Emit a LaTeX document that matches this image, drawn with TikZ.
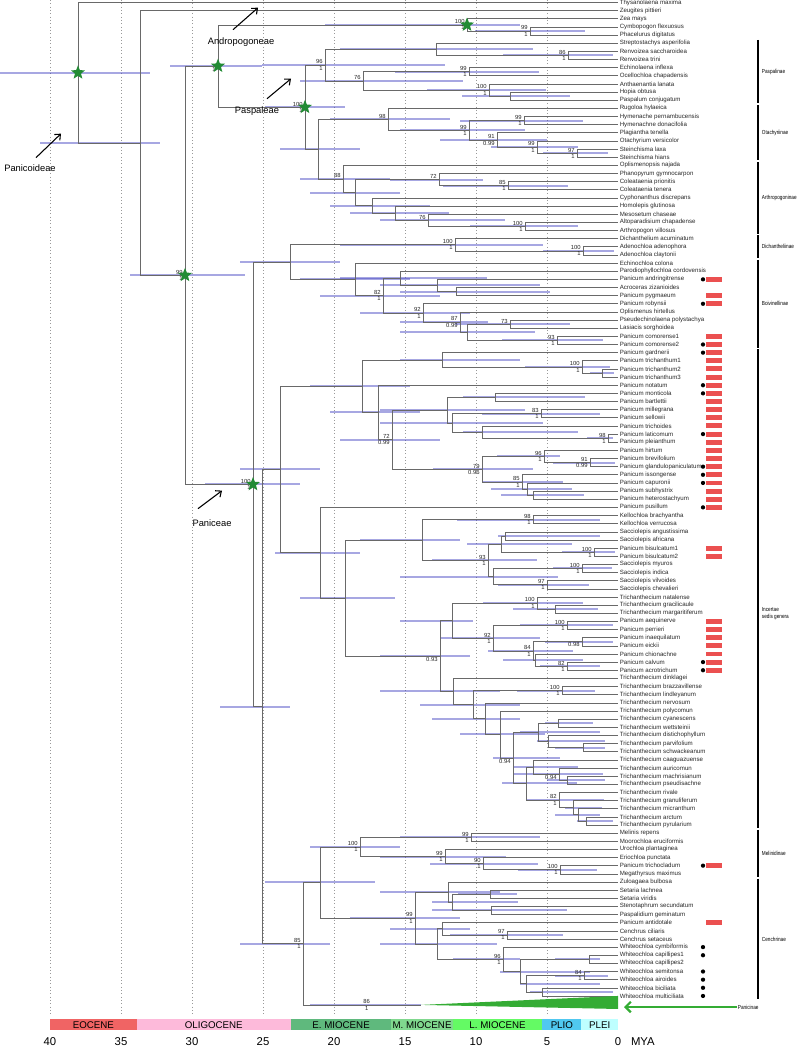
\documentclass[tikz,border=0pt]{standalone}
\usepackage{fontspec}
\setmainfont{Liberation Sans}
\usetikzlibrary{shapes.geometric, arrows.meta, positioning}
\definecolor{hpdblue}{RGB}{60,60,190}
\definecolor{branchgrey}{RGB}{105,105,105}
\definecolor{stargreen}{RGB}{34,139,52}
\definecolor{redbar}{RGB}{235,80,80}
\definecolor{pangreen}{RGB}{52,172,52}
\definecolor{eoc}{RGB}{240,100,100}
\definecolor{oli}{RGB}{253,186,218}
\definecolor{emio}{RGB}{95,185,125}
\definecolor{mmio}{RGB}{128,216,142}
\definecolor{lmio}{RGB}{100,250,100}
\definecolor{plio}{RGB}{80,200,240}
\definecolor{plei}{RGB}{190,255,255}

% node with its age bar
\newcommand{\nd}[5]{\coordinate (#1) at (#2,#3); \draw[hpd] (#4,#3) -- (#5,#3);}
% support values (bootstrap above, posterior below)
\newcommand{\bsup}[3]{\node[supp, anchor=south east] at (#1) {#2}; \node[supp, anchor=north east] at (#1) {#3};}
% narrow clade label
\newcommand{\narrow}[1]{\scalebox{0.8}[1]{#1}}

\begin{document}
\begin{tikzpicture}[x=0.75pt, y=-0.75pt,
  branch/.style={draw=branchgrey, line width=0.45pt},
  hpd/.style={draw=hpdblue, line width=1.5pt, opacity=0.45},
  taxon/.style={font=\fontsize{4.6}{5}\selectfont, anchor=west, text=black!85, inner sep=0.4pt},
  supp/.style={font=\fontsize{4.4}{5}\selectfont, text=black!85, inner sep=0.6pt, xshift=-1pt},
  gstar/.style={star, star points=5, star point ratio=2.3, fill=stargreen, minimum size=11pt, inner sep=0pt},
  cladebar/.style={draw=black, line width=2pt},
  cladelab/.style={font=\fontsize{4.4}{5.3}\selectfont, anchor=west, align=left, inner sep=0.5pt},
  tribe/.style={font=\fontsize{7}{8}\selectfont, inner sep=0.5pt},
  callout/.style={draw=black, line width=0.8pt, -{Straight Barb[length=3.5pt, width=6pt]}},
  epoch/.style={font=\fontsize{7.3}{8}\selectfont, inner sep=0pt},
  axis/.style={font=\fontsize{8.5}{10}\selectfont, inner sep=0.5pt},
  grid/.style={draw=black!40, dotted, line width=0.5pt}]
  \useasboundingbox (0,0) rectangle (796,1049);

  % Time grid, every 5 MY.
  \foreach \t in {5,10,...,40}
    \draw[grid] ({618-14.2*\t},0) -- ({618-14.2*\t},1014);

  % Tree, one row per taxon.
  \begin{scope}[y=-6.10725pt, yshift=4.232pt]
  \foreach \i/\t in {1/Thysanolaena maxima, 2/Zeugites pittieri, 3/Zea mays, 4/Cymbopogon flexuosus,
      5/Phacelurus digitatus, 6/Streptostachys asperifolia, 7/Renvoizea saccharoidea, 8/Renvoizea trini,
      9/Echinolaena inflexa, 10/Ocellochloa chapadensis, 11/Anthaenantia lanata, 12/Hopia obtusa,
      13/Paspalum conjugatum, 14/Rugoloa hylaeica, 15/Hymenache pernambucensis, 16/Hymenachne donacifolia,
      17/Plagiantha tenella, 18/Otachyrium versicolor, 19/Steinchisma laxa, 20/Steinchisma hians,
      21/Oplismenopsis najada, 22/Phanopyrum gymnocarpon, 23/Coleataenia prionitis, 24/Coleataenia tenera,
      25/Cyphonanthus discrepans, 26/Homolepis glutinosa, 27/Mesosetum chaseae, 28/Altoparadisium chapadense,
      29/Arthropogon villosus, 30/Dichanthelium acuminatum, 31/Adenochloa adenophora, 32/Adenochloa claytonii,
      33/Echinochloa colona, 34/Parodiophyllochloa cordovensis, 35/Panicum andringitrense, 36/Acroceras zizanioides,
      37/Panicum pygmaeum, 38/Panicum robynsii, 39/Oplismenus hirtellus, 40/Pseudechinolaena polystachya,
      41/Lasiacis sorghoidea, 42/Panicum comorense1, 43/Panicum comorense2, 44/Panicum gardnerii,
      45/Panicum trichanthum1, 46/Panicum trichanthum2, 47/Panicum trichanthum3, 48/Panicum notatum,
      49/Panicum monticola, 50/Panicum bartlettii, 51/Panicum millegrana, 52/Panicum sellowii,
      53/Panicum trichoides, 54/Panicum laticomum, 55/Panicum pleianthum, 56/Panicum hirtum,
      57/Panicum brevifolium, 58/Panicum glandulopaniculatum, 59/Panicum issongense, 60/Panicum capuronii,
      61/Panicum subhystrix, 62/Panicum heterostachyum, 63/Panicum pusillum, 64/Kellochloa brachyantha,
      65/Kellochloa verrucosa, 66/Sacciolepis angustissima, 67/Sacciolepis africana, 68/Panicum bisulcatum1,
      69/Panicum bisulcatum2, 70/Sacciolepis myuros, 71/Sacciolepis indica, 72/Sacciolepis vilvoides,
      73/Sacciolepis chevalieri, 74/Trichanthecium natalense, 75/Trichanthecium gracilicaule,
      76/Trichanthecium margaritiferum, 77/Panicum aequinerve, 78/Panicum perrieri, 79/Panicum inaequilatum,
      80/Panicum eickii, 81/Panicum chionachne, 82/Panicum calvum, 83/Panicum acrotrichum,
      84/Trichanthecium dinklagei, 85/Trichanthecium brazzavillense, 86/Trichanthecium lindleyanum,
      87/Trichanthecium nervosum, 88/Trichanthecium polycomun, 89/Trichanthecium cyanescens,
      90/Trichanthecium wettsteinii, 91/Trichanthecium distichophyllum, 92/Trichanthecium parvifolium,
      93/Trichanthecium schwackeanum, 94/Trichanthecium caaguazuense, 95/Trichanthecium auricomun,
      96/Trichanthecium machrisianum, 97/Trichanthecium pseudisachne, 98/Trichanthecium rivale,
      99/Trichanthecium granuliferum, 100/Trichanthecium micranthum, 101/Trichanthecium arctum,
      102/Trichanthecium pyrularium, 103/Melinis repens, 104/Moorochloa eruciformis, 105/Urochloa plantaginea,
      106/Eriochloa punctata, 107/Panicum trichocladum, 108/Megathyrsus maximus, 109/Zuloagaea bulbosa,
      110/Setaria lachnea, 111/Setaria viridis, 112/Stenotaphrum secundatum, 113/Paspalidium geminatum,
      114/Panicum antidotale, 115/Cenchrus ciliaris, 116/Cenchrus setaceus, 117/Whiteochloa cymbiformis,
      118/Whiteochloa capillipes1, 119/Whiteochloa capillipes2, 120/Whiteochloa semitonsa,
      121/Whiteochloa airoides, 122/Whiteochloa biciliata, 123/Whiteochloa multiciliata}
  {
    \coordinate (l\i) at (618,\i);
    \node[taxon] (t\i) at (619,\i) {\t};
  }

  % Backbone and Andropogoneae.
  \nd{root}{78}{9.62}{0}{150}
  \nd{nA}{140}{18.24}{40}{160}
  \nd{nB}{185}{34.49}{130}{245}
  \nd{nC}{218}{8.8}{170}{262}
  \nd{nAnd}{467}{3.75}{325}{520}
  \nd{nAnd2}{530}{4.5}{475}{585}
  % Paspaleae.
  \nd{pasp}{305}{13.85}{265}{345}
  \nd{p1}{568}{7.5}{503}{613}
  \nd{p2}{436}{6.75}{340}{533}
  \nd{p3}{469}{9.5}{395}{539}
  \nd{p4}{510}{12.5}{462}{570}
  \nd{p5}{489}{11.75}{427}{546}
  \nd{p6}{363}{10.63}{300}{463}
  \nd{p7}{325}{8.69}{262}{445}
  \nd{oa}{318}{19.0}{280}{360}
  \nd{o1}{524}{15.5}{460}{583}
  \nd{o2}{577}{19.5}{543}{608}
  \nd{o3}{537}{18.75}{491}{578}
  \nd{o4}{497}{17.88}{440}{547}
  \nd{o5}{469}{16.69}{400}{525}
  \nd{o6}{388}{15.34}{330}{450}
  \nd{a1}{508}{23.5}{443}{568}
  \nd{a2}{439}{22.75}{390}{483}
  \nd{a3}{525}{28.5}{470}{578}
  \nd{a4}{428}{27.75}{380}{505}
  \nd{a5}{395}{26.88}{350}{449}
  \nd{a6}{372}{25.94}{330}{430}
  \nd{a7}{355}{24.34}{310}{400}
  \nd{a8}{343}{22.67}{300}{390}
  % Paniceae: Dichantheliinae and Boivinellinae.
  \nd{panic}{253}{60.17}{205}{300}
  \nd{db}{290}{32.88}{240}{340}
  \nd{d1}{583}{31.5}{543}{614}
  \nd{d2}{455}{30.75}{340}{543}
  \nd{boiv}{355}{35.0}{300}{410}
  \nd{b82}{383}{37.0}{320}{440}
  \nd{bpa}{400}{34.88}{340}{487}
  \nd{ban}{437}{35.75}{380}{540}
  \nd{bac}{456}{36.5}{400}{550}
  \nd{brob}{423}{39.13}{360}{470}
  \nd{bopl}{460}{40.25}{400}{488}
  \nd{bx}{467}{41.5}{400}{535}
  \nd{bpl}{510}{40.5}{455}{570}
  \nd{bcm}{557}{42.5}{502}{603}
  \nd{lp}{262}{87.46}{220}{290}
  \nd{incr}{280}{58.34}{240}{320}
  % Incertae sedis genera.
  \nd{i18}{362}{48.11}{310}{410}
  \nd{i3}{442}{44.88}{400}{520}
  \nd{i2}{582}{45.75}{525}{610}
  \nd{i1}{602}{46.5}{590}{614}
  \nd{i10}{378}{51.34}{330}{420}
  \nd{i17}{392}{54.69}{340}{440}
  \nd{i9}{447}{51.06}{380}{525}
  \nd{i4}{495}{49.5}{463}{585}
  \nd{i8}{452}{52.63}{380}{543}
  \nd{i5}{541}{51.5}{482}{600}
  \nd{i7}{482}{53.75}{463}{578}
  \nd{i6}{608}{54.5}{587}{613}
  \nd{i16}{482}{58.31}{433}{533}
  \nd{i12}{544}{56.75}{497}{560}
  \nd{i11}{590}{57.5}{553}{615}
  \nd{i15}{522}{59.88}{482}{563}
  \nd{i14}{527}{60.75}{491}{572}
  \nd{i13}{533}{61.5}{501}{584}
  \nd{pr}{320}{68.57}{275}{360}
  \nd{rest}{345}{74.13}{300}{395}
  \nd{ks}{422}{67.0}{360}{460}
  \nd{k1}{533}{64.5}{457}{600}
  \nd{s6}{488}{69.5}{432}{537}
  \nd{s2}{501}{67.5}{467}{572}
  \nd{s1}{505}{66.5}{498}{600}
  \nd{bis}{594}{68.5}{562}{615}
  \nd{s5}{493}{71.5}{400}{558}
  \nd{s3}{582}{70.5}{553}{612}
  \nd{s4}{547}{72.5}{498}{589}
  \nd{nqt}{440}{81.26}{380}{470}
  \nd{nq}{452}{76.91}{400}{473}
  \nd{t2n}{537}{74.75}{483}{583}
  \nd{t1n}{555}{75.5}{513}{598}
  \nd{q6}{493}{79.06}{440}{540}
  \nd{q1}{567}{77.5}{520}{613}
  \nd{q5}{533}{80.63}{488}{573}
  \nd{q2}{582}{79.5}{545}{613}
  \nd{q4}{535}{81.75}{503}{583}
  \nd{q3}{567}{82.5}{540}{600}
  \nd{c13}{453}{85.61}{380}{500}
  \nd{c12}{473}{87.22}{420}{520}
  \nd{tb}{562}{85.5}{517}{595}
  \nd{c11}{485}{88.94}{432}{520}
  \nd{c10}{500}{90.88}{460}{545}
  \nd{c9}{513}{93.77}{493}{560}
  \nd{c4}{538}{90.63}{520}{600}
  \nd{c1}{558}{89.5}{545}{593}
  \nd{c3}{548}{91.75}{537}{605}
  \nd{c2}{583}{92.5}{555}{605}
  \nd{c8}{526}{96.9}{502}{577}
  \nd{c7}{533}{94.88}{513}{578}
  \nd{c6}{559}{95.75}{513}{603}
  \nd{c5}{567}{96.5}{547}{605}
  \nd{r4}{559}{98.94}{527}{604}
  \nd{r3}{573}{99.88}{565}{602}
  \nd{r2}{578}{100.75}{555}{600}
  \nd{r1}{586}{101.5}{577}{613}
  % Melinidinae, Cenchrinae, Panicinae.
  \nd{n85}{303}{116.58}{240}{330}
  \nd{mc}{320}{109.06}{265}{375}
  \nd{m5}{360}{104.69}{310}{400}
  \nd{m1}{471}{103.5}{400}{540}
  \nd{m4}{445}{105.88}{380}{506}
  \nd{m3}{483}{106.75}{430}{538}
  \nd{m2}{560}{107.5}{518}{597}
  \nd{ce9}{415}{113.44}{350}{460}
  \nd{ce4}{448}{110.25}{380}{500}
  \nd{ce3}{452}{111.5}{432}{518}
  \nd{ce1}{490}{110.5}{458}{517}
  \nd{ce2}{491}{112.5}{432}{567}
  \nd{ce8}{437}{116.63}{380}{497}
  \nd{ce6}{442}{114.75}{390}{470}
  \nd{ce5}{507}{115.5}{450}{563}
  \nd{w6}{503}{118.5}{453}{520}
  \nd{w5}{520}{120.0}{500}{590}
  \nd{w1}{589}{118.5}{555}{600}
  \nd{w4}{526}{121.5}{520}{600}
  \nd{w2}{584}{120.5}{555}{608}
  \nd{w3}{542}{122.5}{530}{613}
  \nd{pan}{421}{124.1}{310}{421}

  % Branches, parent to child.
  \foreach \p/\c in {root/l1, root/nA, nA/l2, nA/nB, nB/nC, nB/panic, nC/nAnd, nC/pasp,
      nAnd/l3, nAnd/nAnd2, nAnd2/l4, nAnd2/l5,
      pasp/p7, pasp/oa, p7/p2, p7/p6, p2/l6, p2/p1, p1/l7, p1/l8, p6/p3, p6/p5, p3/l9, p3/l10,
      p5/l11, p5/p4, p4/l12, p4/l13,
      oa/o6, oa/a8, o6/l14, o6/o5, o5/o1, o5/o4, o1/l15, o1/l16, o4/l17, o4/o3, o3/l18, o3/o2,
      o2/l19, o2/l20,
      a8/l21, a8/a7, a7/a2, a7/a6, a2/l22, a2/a1, a1/l23, a1/l24, a6/l25, a6/a5, a5/l26, a5/a4,
      a4/l27, a4/a3, a3/l28, a3/l29,
      panic/db, panic/lp, db/d2, db/boiv, d2/l30, d2/d1, d1/l31, d1/l32,
      boiv/l33, boiv/b82, b82/bpa, b82/brob, bpa/l34, bpa/ban, ban/l35, ban/bac, bac/l36, bac/l37,
      brob/l38, brob/bopl, bopl/l39, bopl/bx, bx/bpl, bx/bcm, bpl/l40, bpl/l41, bcm/l42, bcm/l43,
      lp/incr, lp/n85, incr/i18, incr/pr, pr/l63, pr/rest,
      i18/i3, i18/i10, i3/l44, i3/i2, i2/l45, i2/i1, i1/l46, i1/l47,
      i10/l48, i10/i17, i17/i9, i17/i16, i9/i4, i9/i8, i4/l49, i4/l50, i8/i5, i8/i7,
      i5/l51, i5/l52, i7/l53, i7/i6, i6/l54, i6/l55, i16/i12, i16/i15, i12/l56, i12/i11,
      i11/l57, i11/l58, i15/l59, i15/i14, i14/l60, i14/i13, i13/l61, i13/l62,
      rest/ks, rest/nqt, ks/k1, ks/s6, k1/l64, k1/l65, s6/s2, s6/s5, s2/s1, s2/bis,
      s1/l66, s1/l67, bis/l68, bis/l69, s5/s3, s5/s4, s3/l70, s3/l71, s4/l72, s4/l73,
      nqt/nq, nqt/c13, nq/t2n, nq/q6, t2n/l74, t2n/t1n, t1n/l75, t1n/l76, q6/q1, q6/q5,
      q1/l77, q1/l78, q5/q2, q5/q4, q2/l79, q2/l80, q4/l81, q4/q3, q3/l82, q3/l83,
      c13/l84, c13/c12, c12/tb, c12/c11, tb/l85, tb/l86, c11/l87, c11/c10, c10/l88, c10/c9,
      c9/c4, c9/c8, c4/c1, c4/c3, c1/l89, c1/l90, c3/l91, c3/c2, c2/l92, c2/l93,
      c8/c7, c8/r4, c7/l94, c7/c6, c6/l95, c6/c5, c5/l96, c5/l97,
      r4/l98, r4/r3, r3/l99, r3/r2, r2/l100, r2/r1, r1/l101, r1/l102,
      n85/mc, n85/pan, mc/m5, mc/ce9, m5/m1, m5/m4, m1/l103, m1/l104, m4/l105, m4/m3,
      m3/l106, m3/m2, m2/l107, m2/l108,
      ce9/ce4, ce9/ce8, ce4/l109, ce4/ce3, ce3/ce1, ce3/ce2, ce1/l110, ce1/l111, ce2/l112, ce2/l113,
      ce8/ce6, ce8/w6, ce6/l114, ce6/ce5, ce5/l115, ce5/l116, w6/l117, w6/w5, w5/w1, w5/w4,
      w1/l118, w1/l119, w4/w2, w4/w3, w2/l120, w2/l121, w3/l122, w3/l123}
    \draw[branch] (\p) |- (\c);

  % Collapsed Panicinae.
  \fill[pangreen] (pan) -- (618,123.0) -- (618,124.6) -- cycle;

  % Support values.
  \bsup{nAnd}{100}{1} \bsup{nAnd2}{99}{1} \bsup{nC}{}{1} \bsup{nB}{99}{1}
  \bsup{pasp}{100}{1} \bsup{p1}{86}{1} \bsup{p3}{99}{1} \bsup{p5}{100}{1} \bsup{p6}{76}{} \bsup{p7}{96}{1}
  \bsup{o1}{99}{1} \bsup{o2}{97}{1} \bsup{o3}{99}{1} \bsup{o4}{91}{0.99} \bsup{o5}{99}{1} \bsup{o6}{98}{}
  \bsup{a1}{85}{1} \bsup{a2}{72}{} \bsup{a3}{100}{1} \bsup{a4}{76}{} \bsup{a8}{88}{}
  \bsup{panic}{100}{1} \bsup{d1}{100}{1} \bsup{d2}{100}{1}
  \bsup{b82}{82}{1} \bsup{brob}{92}{1} \bsup{bopl}{87}{0.99} \bsup{bpl}{73}{} \bsup{bcm}{93}{1}
  \bsup{i2}{100}{1} \bsup{i5}{83}{1} \bsup{i6}{98}{1} \bsup{i12}{96}{1} \bsup{i11}{91}{0.99}
  \bsup{i15}{85}{1} \bsup{i16}{79}{0.96} \bsup{i17}{72}{0.99}
  \bsup{k1}{98}{1} \bsup{bis}{100}{1} \bsup{s6}{93}{1} \bsup{s3}{100}{1} \bsup{s4}{97}{1}
  \bsup{t2n}{100}{1} \bsup{q1}{100}{1} \bsup{q6}{92}{1} \bsup{q5}{84}{1} \bsup{q2}{}{0.98} \bsup{q3}{82}{1}
  \bsup{nqt}{}{0.93} \bsup{tb}{100}{1} \bsup{c9}{}{0.94} \bsup{c6}{}{0.94} \bsup{r4}{82}{1}
  \bsup{m1}{99}{1} \bsup{m4}{99}{1} \bsup{m3}{90}{1} \bsup{m2}{100}{1} \bsup{m5}{100}{1}
  \bsup{ce5}{97}{1} \bsup{w6}{96}{1} \bsup{w2}{84}{1} \bsup{ce9}{99}{1} \bsup{n85}{85}{1}
  \node[supp, anchor=south] at (368,124.1) {86};
  \node[supp, anchor=north] at (368,124.1) {1};

  % Stars on dated tribe nodes.
  \foreach \s in {root, nB, nC, nAnd, pasp, panic}
    \node[gstar] at (\s) {};

  % Markers beside the tips.
  \foreach \i in {35,38,43,44,48,49,54,58,59,60,63,82,83,107,117,118,120,121,122,123}
    \fill (703,\i) circle[radius=1.6pt];
  \foreach \i in {35,37,38,42,43,44,45,46,47,48,49,50,51,52,53,54,55,56,57,58,59,60,61,62,63,
      68,69,77,78,79,80,81,82,83,107,114}
    \fill[redbar] (706,{\i-0.3}) rectangle (722,{\i+0.3});

  % Subtribe bars.
  \foreach \a/\b/\lab in {6/13/Paspalinae, 14/20/Otachyriinae, 21/29/Arthropogoninae,
      30/32/Dichantheliinae, 33/43/Boivinellinae, 103/108/Melinidinae, 109/123/Cenchrinae}
  {
    \draw[cladebar] (758,{\a-0.4}) -- (758,{\b+0.4});
    \node[cladelab] (\lab) at (761,{(\a+\b)/2}) {\narrow{\lab}};
  }
  \draw[cladebar] (758,43.6) -- (758,102.4);
  \node[cladelab] (incsed) at (761,76) {\narrow{Incertae}\\\narrow{sedis genera}};
  \end{scope}

  % Tribe call-outs.
  \node[tribe] (panicoideae) at (30,168) {Panicoideae};
  \draw[callout] (panicoideae.north) ++(6,-6) -- ++(25,-24);
  \node[tribe] (andropogoneae) at (241,42) {Andropogoneae};
  \draw[callout] (andropogoneae.north) ++(-8,-7) -- ++(25,-22);
  \node[tribe] (paspaleae) at (257,111) {Paspaleae};
  \draw[callout] (paspaleae.north) ++(10,-7) -- ++(24,-20);
  \node[tribe] (paniceae) at (212,523) {Paniceae};
  \draw[callout] (paniceae.north) ++(-14,-10) -- ++(24,-18);

  % Panicinae label.
  \node[cladelab] (panicinae) at (737,1007) {\narrow{Panicinae}};
  \coordinate (pantip) at (624,1007);
  \draw[draw=pangreen, line width=1.6pt, -{Straight Barb[length=4pt, width=8pt]}] (panicinae.west) -- (pantip);

  % Geological time scale.
  \foreach \a/\b/\c/\lab in {40/33.9/eoc/EOCENE, 33.9/23.03/oli/OLIGOCENE, 23.03/15.97/emio/E. MIOCENE,
      15.97/11.63/mmio/M. MIOCENE, 11.63/5.33/lmio/L. MIOCENE, 5.33/2.58/plio/PLIO, 2.58/0/plei/PLEI}
  {
    \fill[\c] ({618-14.2*\a},1019) rectangle ({618-14.2*\b},1030);
    \node[epoch] (ep\c) at ({618-14.2*(\a+\b)/2},1024.8) {\lab};
  }
  \foreach \t in {0,5,...,40}
    \node[axis] (ax\t) at ({618-14.2*\t},1042) {\t};
  \node[axis, right=6pt of ax0] (mya) {MYA};
\end{tikzpicture}
\end{document}
